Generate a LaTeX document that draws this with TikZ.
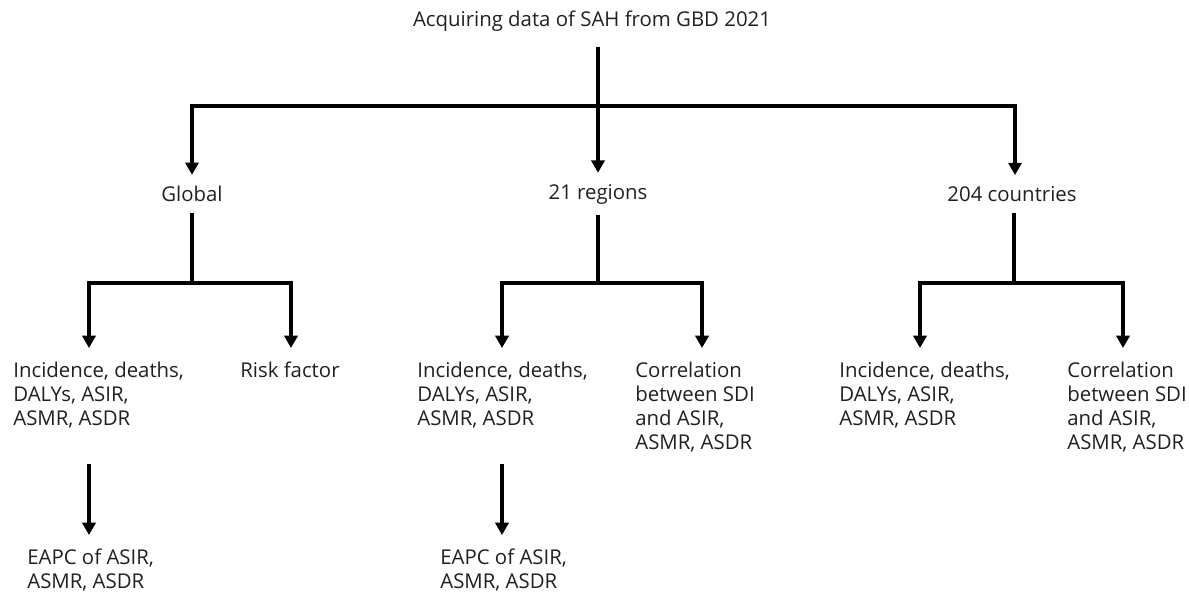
\documentclass[tikz,border=0pt]{standalone}
\usepackage{fontspec}
\setmainfont{Open Sans}
\usetikzlibrary{arrows.meta, positioning, calc}
\definecolor{txtcolor}{RGB}{35,31,32}

\begin{document}
\begin{tikzpicture}[
    x=0.02cm, y=-0.02cm,
    level/.style={inner xsep=0pt, inner ysep=0.22cm, text=txtcolor, font=\fontsize{11.6}{13.5}\selectfont},
    leaf/.style={anchor=north west, align=left, inner xsep=0pt, inner ysep=0.28cm, text=txtcolor, font=\fontsize{11.6}{13.5}\selectfont},
    link/.style={line width=2.1pt},
    arrow/.style={line width=2.1pt, -{Triangle[length=7pt, width=7.5pt]}}
]
    \useasboundingbox (0,0) rectangle (1189,596);

    % Source
    \node[level, inner ysep=0pt] (gbd) at (592,21) {Acquiring data of SAH from GBD 2021};

    % First split
    \node[level] (global) at (192,194) {Global};
    \node[level] (regions) at (598,194) {21 regions};
    \node[level] (countries) at (1012,194) {204 countries};

    \coordinate (topbar) at (598,106);
    \draw[link] (gbd.south -| topbar) ++(0,15) -- (topbar);
    \draw[arrow] (topbar) -| (global.north);
    \draw[arrow] (topbar) -- (regions.north);
    \draw[arrow] (topbar) -| (countries.north -| 1015,0);

    % Results per level
    \node[leaf] (globinc) at (13,348) {Incidence, deaths,\\DALYs, ASIR,\\ASMR, ASDR};
    \node[leaf] (globrisk) at (240,348) {Risk factor};
    \node[leaf] (reginc) at (417,348) {Incidence, deaths,\\DALYs, ASIR,\\ASMR, ASDR};
    \node[leaf] (regcorr) at (635,348) {Correlation\\between SDI\\and ASIR,\\ASMR, ASDR};
    \node[leaf] (couinc) at (839,348) {Incidence, deaths,\\DALYs, ASIR,\\ASMR, ASDR};
    \node[leaf] (coucorr) at (1067,348) {Correlation\\between SDI\\and ASIR,\\ASMR, ASDR};

    \coordinate (globL) at (89,283);
    \coordinate (globR) at (291,283);
    \coordinate (regL) at (502,283);
    \coordinate (regR) at (702,283);
    \coordinate (couL) at (920,283);
    \coordinate (couR) at (1123,283);

    \draw[link] (global.south) -- (global.south |- globL);
    \draw[arrow] (global.south |- globL) -- (globL) -- (globL |- globinc.north);
    \draw[arrow] (global.south |- globL) -- (globR) -- (globR |- globrisk.north);

    \draw[link] (regions.south) -- (regions.south |- regL);
    \draw[arrow] (regions.south |- regL) -- (regL) -- (regL |- reginc.north);
    \draw[arrow] (regions.south |- regL) -- (regR) -- (regR |- regcorr.north);

    \draw[link] (countries.south -| 1014,0) -- (1014,283);
    \draw[arrow] (1014,283) -- (couL) -- (couL |- couinc.north);
    \draw[arrow] (1014,283) -- (couR) -- (couR |- coucorr.north);

    % Trends
    \node[leaf] (globeapc) at (27,535) {EAPC of ASIR,\\ASMR, ASDR};
    \node[leaf] (regeapc) at (440,535) {EAPC of ASIR,\\ASMR, ASDR};

    \draw[arrow] (globL |- globinc.south) ++(0,22) -- (globL |- globeapc.north);
    \draw[arrow] (regL |- reginc.south) ++(0,22) -- (regL |- regeapc.north);

\end{tikzpicture}
\end{document}
